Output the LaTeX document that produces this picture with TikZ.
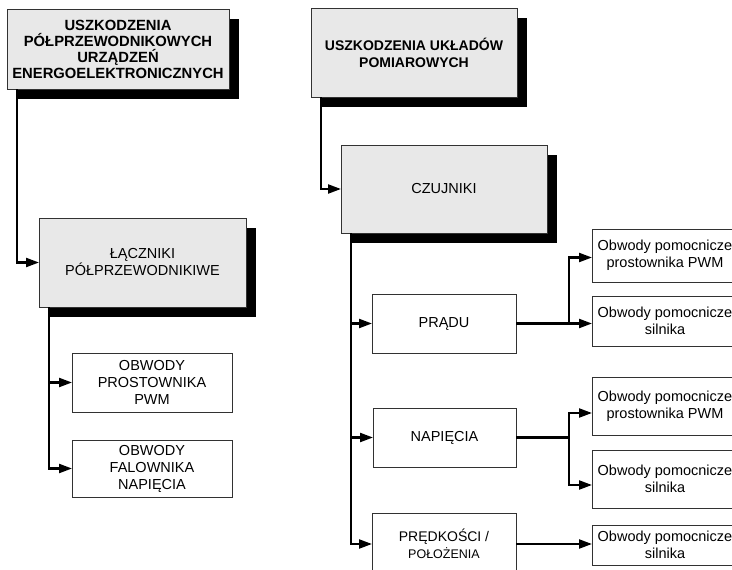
\documentclass[tikz,border=0pt]{standalone}
\usepackage{fontspec}
\setmainfont{Liberation Sans}
\usetikzlibrary{arrows.meta,calc,shadows}
\definecolor{boxgray}{RGB}{232,232,232}
\definecolor{edge}{RGB}{50,50,50}

\begin{document}
\begin{tikzpicture}[x=1pt,y=-1pt,
  every node/.style={inner sep=0pt,outer sep=0pt},
  txt/.style={font=\fontsize{14.5}{17}\selectfont},
  headbox/.style={draw=edge, line width=0.9pt, fill=boxgray, anchor=north west,
    align=center,
    drop shadow={shadow xshift=10pt, shadow yshift=-10pt, fill=black, opacity=1}},
  plainbox/.style={draw=edge, line width=0.9pt, fill=white, anchor=north west,
    align=center, txt},
  conn/.style={line width=2.2pt, -{Triangle[length=13pt,width=9pt]}},
  wire/.style={line width=2.2pt}
]
\useasboundingbox (0,0) rectangle (732,570);
\clip (0,0) rectangle (732,570);

% top-level boxes with drop shadows
\node[headbox, minimum width=222, minimum height=80,
  font=\bfseries\fontsize{14.8}{16}\selectfont] (t1) at (7,9)
  {USZKODZENIA\\PÓŁPRZEWODNIKOWYCH\\URZĄDZEŃ\\ENERGOELEKTRONICZNYCH};
\node[headbox, minimum width=206, minimum height=89,
  font=\bfseries\fontsize{14}{17}\selectfont] (t2) at (311,8)
  {USZKODZENIA UKŁADÓW\\POMIAROWYCH};

% second-level boxes
\node[headbox, txt, minimum width=207, minimum height=89] (l) at (39,218)
  {ŁĄCZNIKI\\PÓŁPRZEWODNIKIWE};
\node[headbox, txt, minimum width=206, minimum height=88] (cz) at (341,145)
  {CZUJNIKI};

% switch circuits
\node[plainbox, minimum width=160, minimum height=59] (o1) at (72,353)
  {OBWODY\\PROSTOWNIKA\\PWM};
\node[plainbox, minimum width=160, minimum height=57] (o2) at (72,440)
  {OBWODY\\FALOWNIKA\\NAPIĘCIA};

% sensor kinds
\node[plainbox, minimum width=144, minimum height=59] (p) at (372,294) {PRĄDU};
\node[plainbox, minimum width=143, minimum height=59] (n) at (373,408) {NAPIĘCIA};
\node[plainbox, minimum width=144, minimum height=62] (v) at (372,513)
  {\fontsize{14}{15}\selectfont PRĘDKOŚCI /\\\fontsize{12.5}{15}\selectfont POŁOŻENIA};

% auxiliary circuits
\node[plainbox, minimum width=146, minimum height=53] (r1) at (592,229)
  {Obwody pomocnicze\\prostownika PWM};
\node[plainbox, minimum width=146, minimum height=50] (r2) at (592,296)
  {Obwody pomocnicze\\silnika};
\node[plainbox, minimum width=146, minimum height=58] (r3) at (592,377)
  {Obwody pomocnicze\\prostownika PWM};
\node[plainbox, minimum width=146, minimum height=58] (r4) at (592,450)
  {Obwody pomocnicze\\silnika};
\node[plainbox, minimum width=146, minimum height=40] (r5) at (592,525)
  {Obwody pomocnicze\\silnika};

% feeder lines leaving the shadowed boxes
\coordinate (t1x) at ($(t1.south west)+(10,0)$);
\coordinate (t2x) at ($(t2.south west)+(10,0)$);
\coordinate (lx)  at ($(l.south west)+(10,0)$);
\coordinate (czx) at ($(cz.south west)+(10,0)$);

\draw[conn] (t1x) |- (l.west);
\draw[conn] (t2x) |- (cz.west);

\draw[conn] (lx) |- (o1.west);
\draw[conn] (lx) |- (o2.west);

\draw[conn] (czx) |- (p.west);
\draw[conn] (czx) |- (n.west);
\draw[conn] (czx) |- (v.west);

% branches to the auxiliary circuits
\coordinate (jp) at ($(p.east)+(53,0)$);
\draw[wire] (p.east) -- (jp);
\draw[conn] (jp) |- ($(r1.west)+(0,2)$);
\draw[conn] (jp) -- (jp -| r2.west);

\coordinate (jn) at ($(n.east)+(53,0)$);
\draw[wire] (n.east) -- (jn);
\draw[conn] (jn) |- ($(r3.west)+(0,7)$);
\draw[conn] (jn) |- ($(r4.west)+(0,6)$);

\draw[conn] (v.east) -- (v.east -| r5.west);
\end{tikzpicture}
\end{document}
